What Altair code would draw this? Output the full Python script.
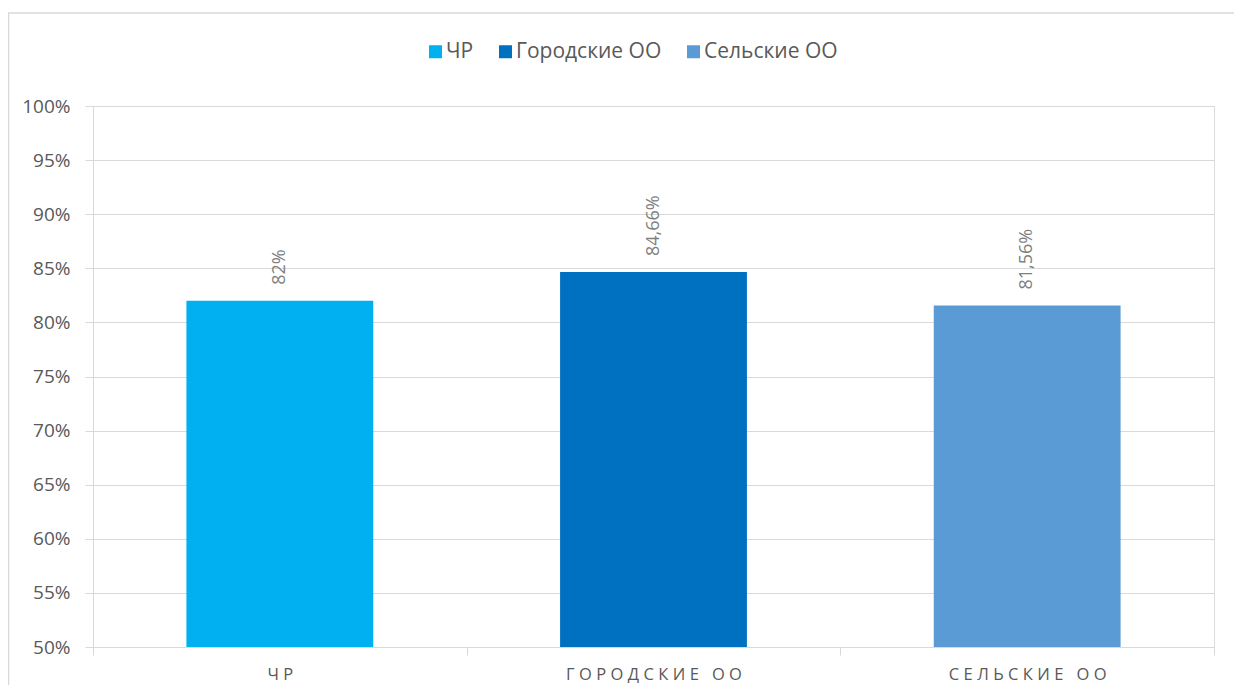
import altair as alt
import pandas as pd

categories = ["ЧР", "Городские ОО", "Сельские ОО"]
values = [82, 84.66, 81.56]
value_labels = ["82%", "84,66%", "81,56%"]
colors = ["#00b0f0", "#0070c0", "#5b9bd5"]
y_ticks = [50, 55, 60, 65, 70, 75, 80, 85, 90, 95, 100]

df = pd.DataFrame({"cat": categories, "val": values, "lab": value_labels})

W, H = 1121, 541
FONT = "Open Sans"

base = alt.Chart(df)

x = alt.X(
    "cat:N",
    sort=categories,
    scale=alt.Scale(paddingInner=0, paddingOuter=0),
    axis=alt.Axis(
        title=None, labelAngle=0, tickBand="extent", grid=False,
        domainColor="#d9d9d9", tickColor="#d9d9d9", tickSize=8,
        labelPadding=11, labelFontSize=16.5, labelColor="#595959", labelFont=FONT,
        labelLimit=500,
        labelExpr="join(split(upper(datum.label), ''), '\u2009\u200a') + '\u2009\u200a'",
    ),
)
y = alt.Y(
    "val:Q",
    scale=alt.Scale(domain=[50, 100], zero=False, nice=False),
    axis=alt.Axis(
        title=None, values=y_ticks, labelExpr="datum.value + '%'",
        gridColor="#d9d9d9", domainColor="#d9d9d9", tickColor="#d9d9d9", tickSize=8,
        labelPadding=15, labelFontSize=19, labelColor="#595959", labelFont=FONT,
    ),
)

bars = base.mark_bar(width={"band": 0.5}).encode(
    x=x,
    y=y,
    y2=alt.datum(50),
    color=alt.Color(
        "cat:N",
        sort=categories,
        scale=alt.Scale(domain=categories, range=colors),
        legend=alt.Legend(
            title=None, orient="none", legendX=332, legendY=-65, direction="horizontal",
            symbolType="square", symbolSize=169, symbolStrokeWidth=0,
            labelFontSize=21, labelColor="#595959", labelFont=FONT,
            columnPadding=21, labelOffset=0,
        ),
    ),
)

texts = base.mark_text(
    angle=270, align="left", baseline="middle", dx=16,
    fontSize=18, color="#7f7f7f", font=FONT,
).encode(x=alt.X("cat:N", sort=categories), y="val:Q", text="lab:N")

border = alt.Chart(pd.DataFrame({"a": [0]})).mark_rect(
    filled=False, stroke="#d9d9d9", strokeWidth=1.5, clip=False
).encode(x=alt.value(-84.5), x2=alt.value(1170), y=alt.value(-93), y2=alt.value(620))

chart = (
    alt.layer(border, bars, texts)
    .properties(
        width=W, height=H,
        autosize=alt.AutoSizeParams(type="none"),
        padding={"left": 85, "top": 98, "right": 20, "bottom": 38},
    )
    .configure_view(stroke=None)
    .configure(background="white")
)

chart.save("out.html", embed_options={"renderer": "svg", "actions": False})
